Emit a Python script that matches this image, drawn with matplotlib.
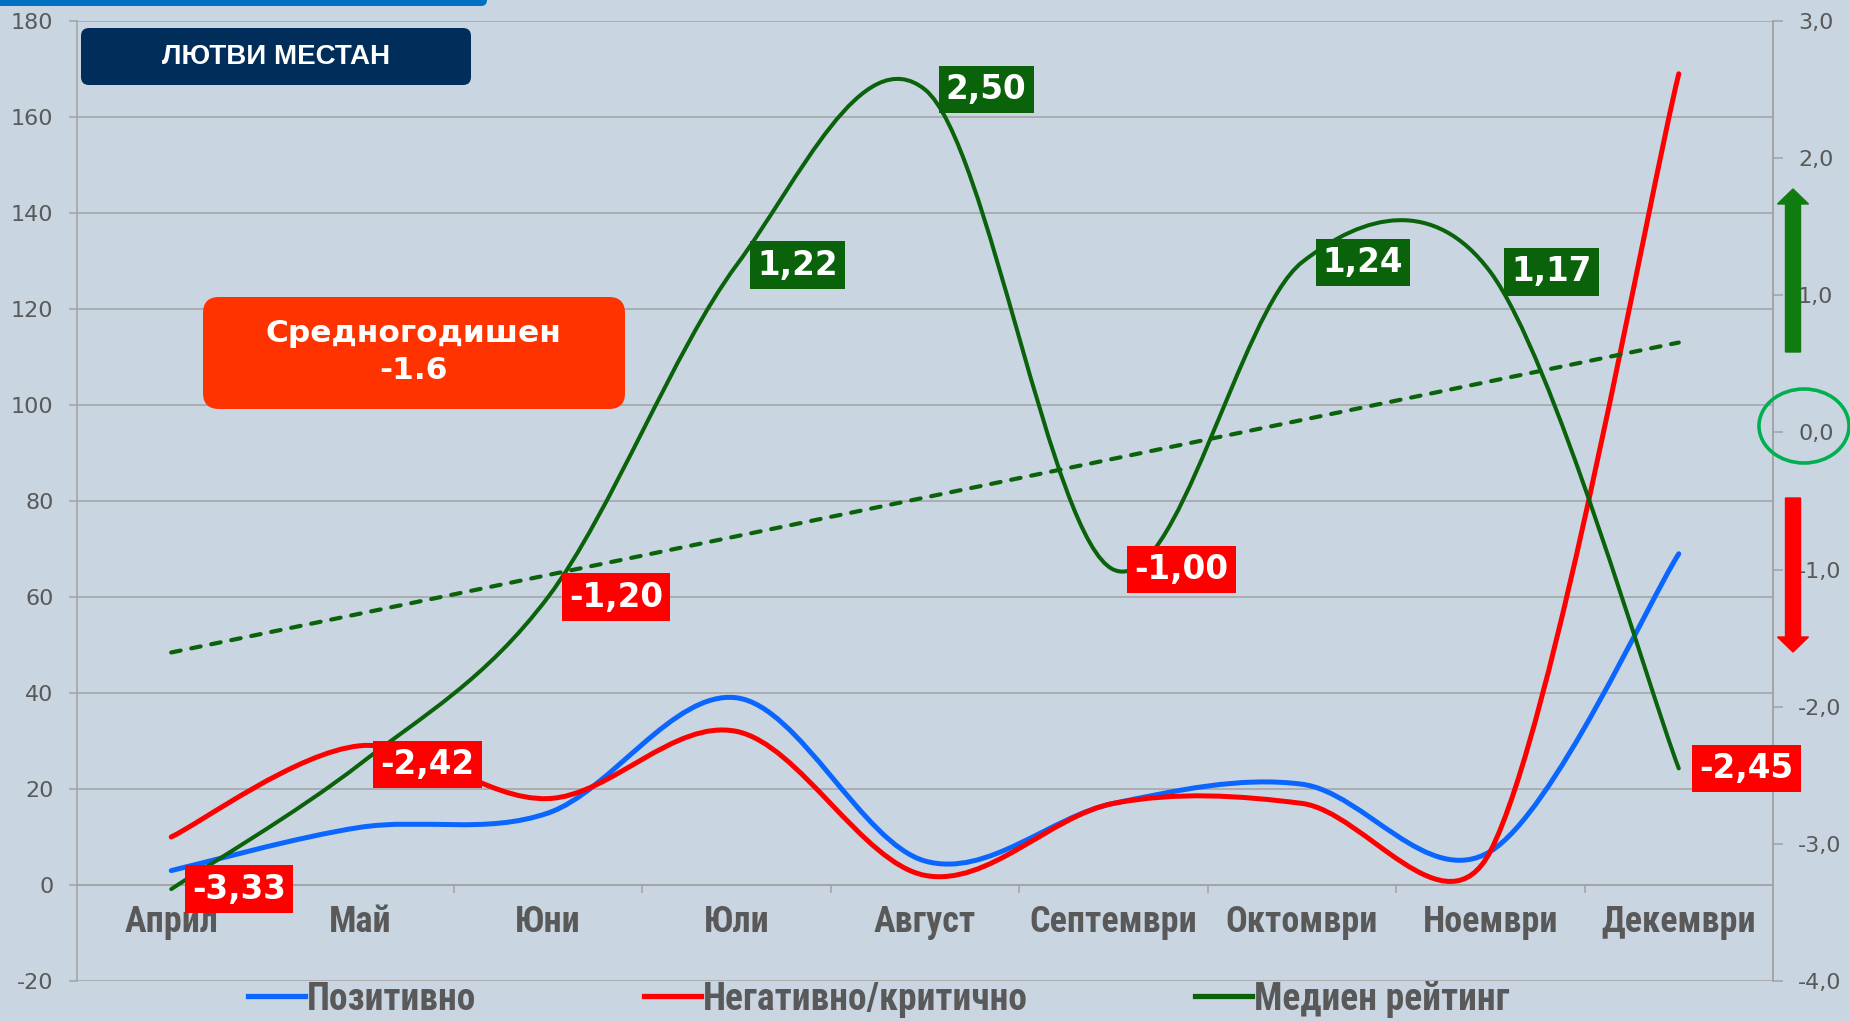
#!/usr/bin/env python3
"""Media rating chart: positive / negative mentions and median rating by month."""
import numpy as np
import matplotlib

matplotlib.use("Agg")
import matplotlib.pyplot as plt
from matplotlib.path import Path
from matplotlib.patches import PathPatch, FancyBboxPatch, FancyArrow, Ellipse
from matplotlib.lines import Line2D
from matplotlib.font_manager import FontProperties

months = ["Април", "Май", "Юни", "Юли", "Август", "Септември", "Октомври", "Ноември", "Декември"]
positive = [3, 12, 15, 39, 5, 17, 21, 7, 69]
negative = [10, 29, 18, 32, 2, 17, 17, 7, 169]
rating = [-3.33, -2.42, -1.20, 1.22, 2.50, -1.00, 1.24, 1.17, -2.45]
series_names = ["Позитивно", "Негативно/критично", "Медиен рейтинг"]
person = "ЛЮТВИ МЕСТАН"
average_label = "Средногодишен\n-1.6"
left_ticks = [-20, 0, 20, 40, 60, 80, 100, 120, 140, 160, 180]
right_ticks = [-4.0, -3.0, -2.0, -1.0, 0.0, 1.0, 2.0, 3.0]

W, H = 1850, 1022
BG = "#C9D6E2"
GRID = "#A3A3A3"
TXT = "#595959"
BLUE = "#0A66FF"
RED = "#FF0000"
GREEN = "#0A620A"
NARROW = ["Roboto Condensed", "Roboto", "DejaVu Sans"]

plt.rcParams["font.family"] = ["DejaVu Sans"]
plt.rcParams["axes.unicode_minus"] = False


def excel_smooth(ax, xs, ys):
    """Bezier path like Excel's smoothed line, built in screen space."""
    pts = ax.transData.transform(np.column_stack([xs, ys]))
    n = len(pts)
    verts = [pts[0]]
    codes = [Path.MOVETO]
    for i in range(n - 1):
        p0 = pts[max(i - 1, 0)]
        p1 = pts[i]
        p2 = pts[i + 1]
        p3 = pts[min(i + 2, n - 1)]
        d12 = np.hypot(*(p2 - p1))
        t1 = p2 - p0
        t2 = p3 - p1
        f1 = min(1 / 6, d12 / (2 * np.hypot(*t1)))
        f2 = min(1 / 6, d12 / (2 * np.hypot(*t2)))
        verts += [p1 + f1 * t1, p2 - f2 * t2, p2]
        codes += [Path.CURVE4] * 3
    return Path(ax.transData.inverted().transform(np.array(verts)), codes)


def px_box(fig, x0, y0, x1, y1, color, r):
    patch = FancyBboxPatch((x0 / 100, (H - y1) / 100), (x1 - x0) / 100, (y1 - y0) / 100,
                           boxstyle=f"round,pad=0,rounding_size={r / 100}",
                           transform=fig.dpi_scale_trans, fc=color, ec="none", zorder=3)
    fig.add_artist(patch)


fig = plt.figure(figsize=(W / 100, H / 100), dpi=100)
fig.patch.set_facecolor(BG)
ax = fig.add_axes([77 / W, (H - 981) / H, (1773 - 77) / W, 960 / H])
ax.set_facecolor(BG)
x = np.arange(len(months))

ax.set_xlim(-0.5, len(months) - 0.5)
ax.set_ylim(-20, 180)
ax.set_yticks(left_ticks)
ax.grid(axis="y", color=GRID, linewidth=1.1)
ax.set_axisbelow(True)
ax.spines["top"].set_visible(False)
for s in ["left", "right", "bottom"]:
    ax.spines[s].set_color(GRID)
    ax.spines[s].set_linewidth(1.1)
ax.spines["bottom"].set_position(("data", 0))
ax.tick_params(axis="y", colors=TXT, labelsize=16, length=6, width=1.1, pad=11)
ax.tick_params(axis="y", color=GRID)
ax.set_xticks(x)
ax.set_xticklabels(months, fontproperties=FontProperties(family=NARROW, weight="bold", size=26))
ax.set_xticks(np.arange(0.5, len(months) - 1, 1), minor=True)
ax.tick_params(axis="x", which="major", length=0, pad=14, colors=TXT)
ax.tick_params(axis="x", which="minor", length=6, width=1.1, color=GRID, direction="out")

ax2 = ax.twinx()
ax2.set_ylim(-4, 3)
ax2.set_yticks(right_ticks)
ax2.set_yticklabels([f"{v:.1f}".replace(".", ",") for v in right_ticks])
ax2.tick_params(axis="y", colors=TXT, labelsize=16, length=7, width=1.1, pad=11)
ax2.tick_params(axis="y", color=GRID)
for s in ["top", "bottom", "left"]:
    ax2.spines[s].set_visible(False)
ax2.spines["right"].set_color(GRID)
ax2.spines["right"].set_linewidth(1.1)

for vals, color, z in [(positive, BLUE, 3), (negative, RED, 4)]:
    ax.add_patch(PathPatch(excel_smooth(ax, x, vals), fc="none", ec=color, lw=3.6,
                           capstyle="round", joinstyle="round", zorder=z))

ax2.add_patch(PathPatch(excel_smooth(ax2, x, rating), fc="none", ec=GREEN, lw=2.9,
                        capstyle="round", joinstyle="round", zorder=5))

# linear trend of the rating
coef = np.polyfit(x, rating, 1)
ends = x[[0, -1]]
ax2.plot(ends, np.polyval(coef, ends), color=GREEN, lw=3.0, dashes=(2.3, 2.6),
         dash_capstyle="round", zorder=4)

for xi, v in zip(x, rating):
    ax2.annotate(f"{v:.2f}".replace(".", ","), xy=(xi, v), xytext=(15, 0),
                 textcoords="offset points", ha="left", va="center", color="white",
                 fontsize=23.5, fontweight="bold", zorder=10,
                 bbox=dict(boxstyle="square,pad=0.22", fc=RED if v < 0 else GREEN, ec="none"))

handles = [Line2D([], [], color=c, lw=3.8) for c in (BLUE, RED, GREEN)]
fig.legend(handles, series_names, loc="center left", bbox_to_anchor=(248 / W, (H - 999) / H),
           ncol=3, frameon=False, borderpad=0, borderaxespad=0, handlelength=1.52,
           handletextpad=0.06, columnspacing=4.45, labelcolor=TXT,
           prop=FontProperties(family=NARROW, weight="bold", size=27))

# decorations
px_box(fig, -20, -20, 487, 6, "#0070C0", 6)
px_box(fig, 81, 28, 471, 85, "#002D5A", 8)
fig.text(276 / W, 1 - 57 / H, person, color="white", fontsize=20, fontweight="bold",
         family="Liberation Sans", ha="center", va="center", zorder=4)
px_box(fig, 203, 297, 625, 409, "#FF3300", 16)
fig.text(413 / W, 1 - 352 / H, average_label, color="white", fontsize=22.5, fontweight="bold",
         ha="center", va="center", linespacing=1.35, zorder=4)

fig.add_artist(FancyArrow(1793 / 100, (H - 352) / 100, 0, (352 - 189) / 100, width=0.15,
                          head_width=0.31, head_length=0.15, length_includes_head=True,
                          transform=fig.dpi_scale_trans, color="#107C10", zorder=3))
fig.add_artist(FancyArrow(1793 / 100, (H - 498) / 100, 0, -(652 - 498) / 100, width=0.15,
                          head_width=0.31, head_length=0.15, length_includes_head=True,
                          transform=fig.dpi_scale_trans, color=RED, zorder=3))
fig.add_artist(Ellipse((1804 / 100, (H - 426) / 100), 0.90, 0.74, transform=fig.dpi_scale_trans,
                       fill=False, ec="#00B050", lw=2.6, zorder=3))

fig.savefig("out.png", dpi=100, facecolor=BG)
